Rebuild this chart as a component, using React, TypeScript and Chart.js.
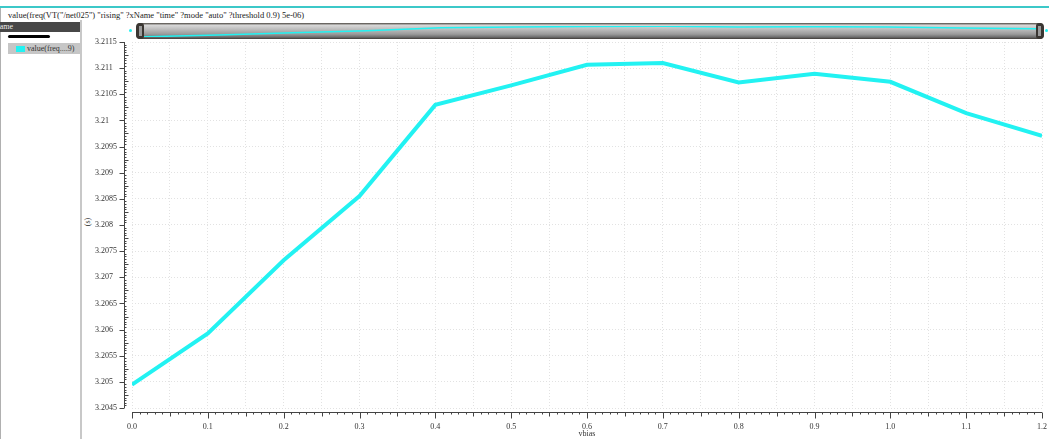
import React, { useEffect, useRef } from "react";
import { Chart, registerables } from "chart.js";

Chart.register(...registerables);

const titleText = `value(freq(VT("/net025") "rising" ?xName "time" ?mode "auto" ?threshold 0.9) 5e-06)`;
const legendHeader = "Name";
const legendLabel = "value(freq....9)";
const xAxisTitle = "vbias";
const yAxisUnit = "(s)";

const vbias = [0.0, 0.1, 0.2, 0.3, 0.4, 0.5, 0.6, 0.7, 0.8, 0.9, 1.0, 1.1, 1.2];
const freqValues = [
  3.204947, 3.205925, 3.207325, 3.208552, 3.210298, 3.210671, 3.211065,
  3.211097, 3.210725, 3.210892, 3.210739, 3.210138, 3.209703,
];

const xTickValues = [
  0.0, 0.05, 0.1, 0.15, 0.2, 0.25, 0.3, 0.35, 0.4, 0.45, 0.5, 0.55, 0.6,
  0.65, 0.7, 0.75, 0.8, 0.85, 0.9, 0.95, 1.0, 1.05, 1.1, 1.15, 1.2,
];
const xTickLabels = [
  "0.0", "", "0.1", "", "0.2", "", "0.3", "", "0.4", "", "0.5", "", "0.6",
  "", "0.7", "", "0.8", "", "0.9", "", "1.0", "", "1.1", "", "1.2",
];
const yTickValues = [
  3.2045, 3.205, 3.2055, 3.206, 3.2065, 3.207, 3.2075, 3.208, 3.2085, 3.209,
  3.2095, 3.21, 3.2105, 3.211, 3.2115,
];
const yTickLabels = [
  "3.2045", "3.205", "3.2055", "3.206", "3.2065", "3.207", "3.2075", "3.208",
  "3.2085", "3.209", "3.2095", "3.21", "3.2105", "3.211", "3.2115",
];

const CYAN = "#22f2f2";
const FONT = '"Liberation Serif", "Times New Roman", serif';
const GRID = "#e2e2e2";

const axesPlugin = {
  id: "virtuosoAxes",
  afterDraw(chart: any) {
    const { ctx } = chart;
    const x = chart.scales.x;
    const y = chart.scales.y;
    ctx.save();
    ctx.strokeStyle = "#444";
    ctx.lineWidth = 1;
    const seg = (x1: number, y1: number, x2: number, y2: number) => {
      ctx.beginPath();
      ctx.moveTo(x1, y1);
      ctx.lineTo(x2, y2);
      ctx.stroke();
    };
    // vertical axis, detached from plot area
    const axX = Math.round(x.getPixelForValue(x.min)) - 8 + 0.5;
    const yTop = y.getPixelForValue(y.max);
    const yBot = y.getPixelForValue(y.min);
    seg(axX, yTop, axX, yBot);
    const yStep = 0.00005;
    const ny = Math.round((y.max - y.min) / yStep);
    for (let i = 0; i <= ny; i++) {
      const py = Math.round(y.getPixelForValue(y.min + i * yStep)) + 0.5;
      if (i % 10 === 0) seg(axX - 5, py, axX, py);
      else if (i % 5 === 0) seg(axX, py, axX + 4, py);
      else seg(axX, py, axX + 2, py);
    }
    // horizontal axis, detached below plot area
    const axY = Math.round(yBot) + 4 + 0.5;
    const x0 = x.getPixelForValue(x.min);
    const x1 = x.getPixelForValue(x.max);
    seg(x0, axY, x1, axY);
    const xStep = 0.01;
    const nx = Math.round((x.max - x.min) / xStep);
    for (let i = 0; i <= nx; i++) {
      const px = Math.round(x.getPixelForValue(x.min + i * xStep)) + 0.5;
      const len = i % 10 === 0 ? 6 : i % 5 === 0 ? 4 : 2;
      seg(px, axY, px, axY + len);
    }
    ctx.fillStyle = "#333";
    ctx.font = `8px ${FONT}`;
    ctx.textAlign = "center";
    ctx.textBaseline = "middle";
    ctx.fillText(xAxisTitle, (x0 + x1) / 2, 434);
    ctx.restore();
  },
};

function MainChart() {
  const ref = useRef<HTMLCanvasElement | null>(null);
  useEffect(() => {
    if (!ref.current) return;
    const chart = new Chart(ref.current, {
      type: "line",
      data: {
        datasets: [
          {
            data: vbias.map((v, i) => ({ x: v, y: freqValues[i] })),
            borderColor: CYAN,
            backgroundColor: CYAN,
            borderWidth: 4,
            pointRadius: 0,
            tension: 0,
            fill: false,
            borderJoinStyle: "miter",
          } as any,
        ],
      },
      options: {
        animation: false,
        responsive: false,
        maintainAspectRatio: false,
        layout: { padding: { left: 13, right: 7, top: 42, bottom: 0 } },
        plugins: { legend: { display: false }, tooltip: { enabled: false } },
        scales: {
          x: {
            type: "linear",
            min: 0,
            max: 1.2,
            afterBuildTicks: (s: any) => {
              s.ticks = xTickValues.map((v) => ({ value: v }));
            },
            afterFit: (s: any) => {
              s.height = 31;
              s.paddingLeft = 0;
              s.paddingRight = 0;
            },
            grid: { color: GRID, lineWidth: 1, drawTicks: false },
            border: { display: false, dash: [1, 2] },
            ticks: {
              autoSkip: false,
              maxRotation: 0,
              minRotation: 0,
              padding: 14,
              color: "#333",
              font: { family: FONT, size: 8 },
              callback: (_v: any, i: number) => xTickLabels[i],
            },
          },
          y: {
            type: "linear",
            min: 3.2045,
            max: 3.2115,
            afterBuildTicks: (s: any) => {
              s.ticks = yTickValues.map((v) => ({ value: v }));
            },
            afterFit: (s: any) => {
              s.width = 37;
              s.paddingTop = 0;
              s.paddingBottom = 0;
            },
            grid: { color: GRID, lineWidth: 1, drawTicks: false },
            border: { display: false, dash: [1, 2] },
            ticks: {
              crossAlign: "far",
              padding: 0,
              color: "#333",
              font: { family: FONT, size: 8 },
              callback: (_v: any, i: number) => yTickLabels[i],
            },
          },
        },
      } as any,
      plugins: [axesPlugin],
    });
    return () => chart.destroy();
  }, []);
  return (
    <canvas
      ref={ref}
      width={967}
      height={439}
      style={{ position: "absolute", left: 82, top: 0, width: 967, height: 439 }}
    />
  );
}

function MiniChart() {
  const ref = useRef<HTMLCanvasElement | null>(null);
  useEffect(() => {
    if (!ref.current) return;
    const chart = new Chart(ref.current, {
      type: "line",
      data: {
        datasets: [
          {
            data: vbias.map((v, i) => ({ x: v, y: freqValues[i] })),
            borderColor: CYAN,
            borderWidth: 1.5,
            pointRadius: 0,
            tension: 0,
            fill: false,
          } as any,
        ],
      },
      options: {
        animation: false,
        responsive: false,
        maintainAspectRatio: false,
        layout: { padding: 0 },
        plugins: { legend: { display: false }, tooltip: { enabled: false } },
        scales: {
          x: { type: "linear", min: 0, max: 1.2, display: false },
          y: { type: "linear", min: 3.2048, max: 3.2113, display: false },
        },
      } as any,
    });
    return () => chart.destroy();
  }, []);
  return (
    <canvas
      ref={ref}
      width={892}
      height={11}
      style={{ position: "absolute", left: 8, top: 3, width: 892, height: 11 }}
    />
  );
}

const abs = (s: React.CSSProperties): React.CSSProperties => ({ position: "absolute", ...s });

export default function App() {
  return (
    <div
      style={{
        position: "absolute",
        left: 0,
        top: 0,
        width: 1049,
        height: 439,
        background: "#fff",
        overflow: "hidden",
        fontFamily: FONT,
      }}
    >
      {/* top border */}
      <div style={abs({ left: 0, top: 6, width: 1049, height: 2, background: "#3cc8c8" })} />
      <div style={abs({ left: 0, top: 8, width: 1, height: 431, background: "#b0b0b0" })} />
      {/* title */}
      <div
        style={abs({
          left: 8,
          top: 10,
          fontSize: 8.5,
          lineHeight: "10px",
          color: "#222",
          whiteSpace: "nowrap",
        })}
      >
        {titleText}
      </div>
      {/* left legend panel */}
      <div style={abs({ left: 0, top: 22, width: 81, height: 10, background: "#474747", overflow: "hidden" })}>
        <span style={abs({ left: -6, top: 0, fontSize: 8, lineHeight: "10px", color: "#eee" })}>
          {legendHeader}
        </span>
      </div>
      <div style={abs({ left: 8, top: 35, width: 42, height: 3, background: "#000", borderRadius: 2 })} />
      <div style={abs({ left: 8, top: 43, width: 72, height: 11, background: "#c6c6c6" })}>
        <div style={abs({ left: 8, top: 3, width: 9, height: 6, background: CYAN })} />
        <span
          style={abs({ left: 19, top: 0, fontSize: 8, lineHeight: "11px", color: "#333", whiteSpace: "nowrap" })}
        >
          {legendLabel}
        </span>
      </div>
      <div style={abs({ left: 80, top: 20, width: 2, height: 419, background: "#c8c8c8" })} />
      {/* y unit label */}
      <div
        style={abs({
          left: 82,
          top: 216,
          width: 12,
          height: 12,
          fontSize: 8,
          lineHeight: "12px",
          textAlign: "center",
          color: "#333",
          transform: "rotate(-90deg)",
        })}
      >
        {yAxisUnit}
      </div>
      {/* scrollbar */}
      <div style={abs({ left: 129, top: 29, width: 3, height: 3, background: CYAN, borderRadius: 2 })} />
      <div style={abs({ left: 1045, top: 29, width: 3, height: 3, background: CYAN, borderRadius: 2 })} />
      <div
        style={abs({
          left: 136,
          top: 23,
          width: 908,
          height: 16,
          borderRadius: 4,
          background:
            "linear-gradient(to bottom, #4a4640 0%, #d8d8d8 14%, #bcbcbc 40%, #9a9a9a 70%, #6e6e6e 88%, #3e3a36 100%)",
          overflow: "hidden",
        })}
      >
        <MiniChart />
        <div style={abs({ left: 0, top: 0, width: 8, height: 16, background: "#3a3632", borderRadius: 3 })}>
          <div style={abs({ left: 3, top: 3, width: 3, height: 10, background: "#9a9a9a" })} />
        </div>
        <div style={abs({ left: 900, top: 0, width: 8, height: 16, background: "#3a3632", borderRadius: 3 })}>
          <div style={abs({ left: 2, top: 3, width: 3, height: 10, background: "#9a9a9a" })} />
        </div>
      </div>
      <MainChart />
    </div>
  );
}
